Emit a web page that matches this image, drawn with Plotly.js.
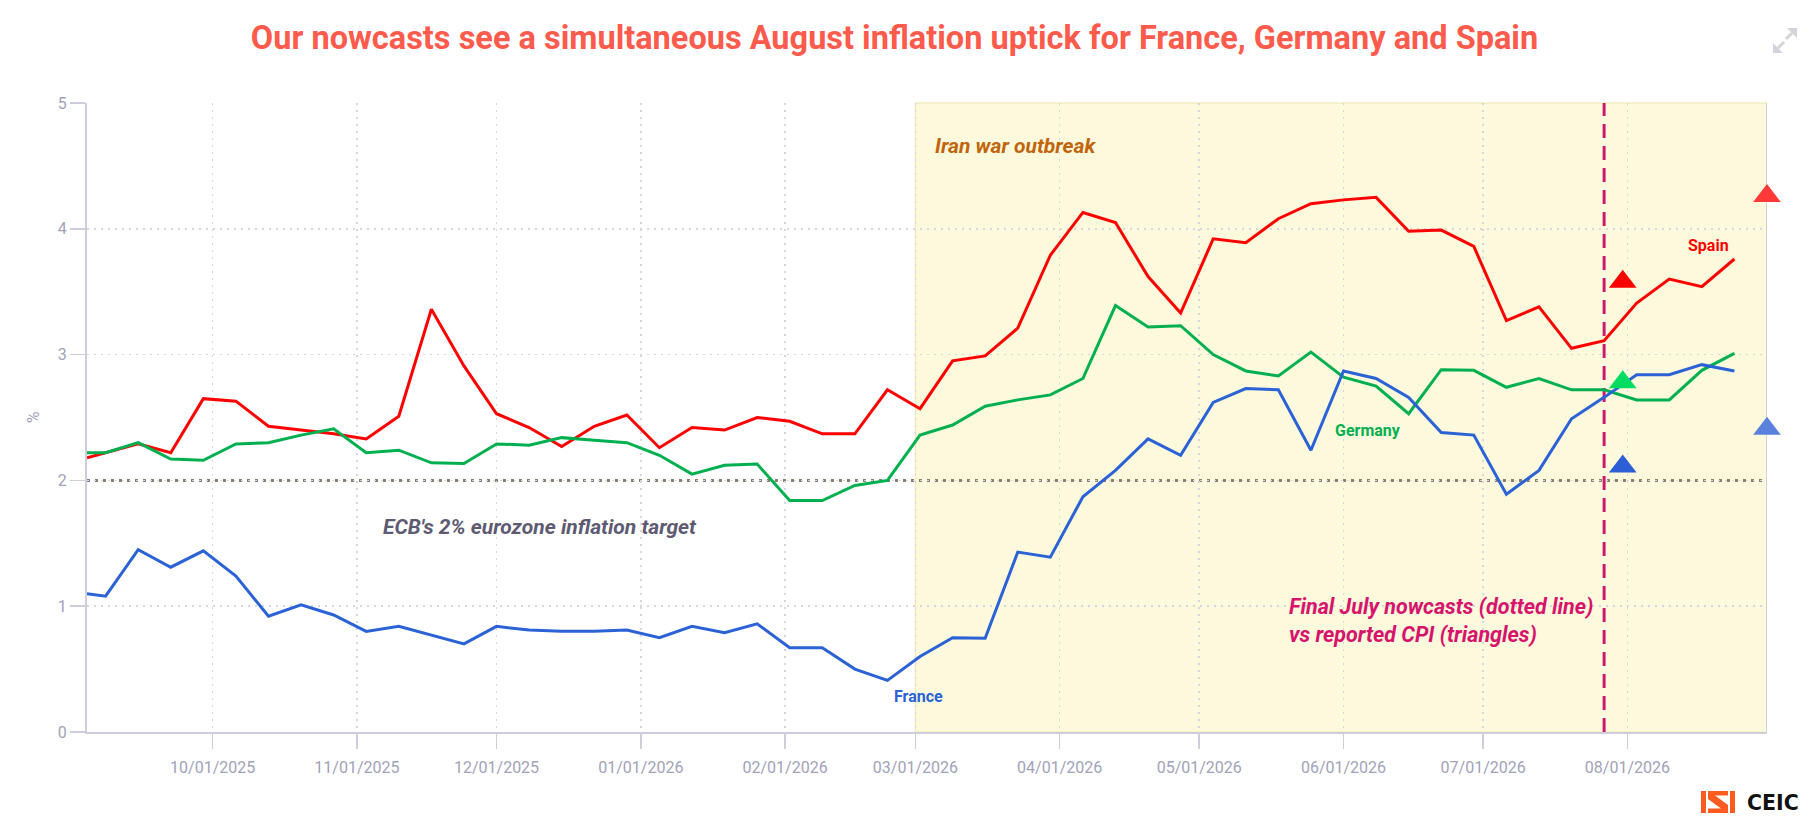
<!DOCTYPE html>
<html>
<head>
<meta charset="utf-8">
<script src="https://cdn.plot.ly/plotly-3.0.1.min.js"></script>
<style>
  html, body { margin: 0; padding: 0; background: #ffffff; }
  #chart { width: 1812px; height: 830px; }
</style>
</head>
<body>
<div id="chart"></div>
<script>
// ---------------- DATA ----------------
const dates = [
  '2025-09-04', '2025-09-08', '2025-09-15', '2025-09-22', '2025-09-29',
  '2025-10-06', '2025-10-13', '2025-10-20', '2025-10-27',
  '2025-11-03', '2025-11-10', '2025-11-17', '2025-11-24',
  '2025-12-01', '2025-12-08', '2025-12-15', '2025-12-22', '2025-12-29',
  '2026-01-05', '2026-01-12', '2026-01-19', '2026-01-26',
  '2026-02-02', '2026-02-09', '2026-02-16', '2026-02-23',
  '2026-03-02', '2026-03-09', '2026-03-16', '2026-03-23', '2026-03-30',
  '2026-04-06', '2026-04-13', '2026-04-20', '2026-04-27',
  '2026-05-04', '2026-05-11', '2026-05-18', '2026-05-25',
  '2026-06-01', '2026-06-08', '2026-06-15', '2026-06-22', '2026-06-29',
  '2026-07-06', '2026-07-13', '2026-07-20', '2026-07-27',
  '2026-08-03', '2026-08-10', '2026-08-17', '2026-08-24'
];

const spain = [
  2.18, 2.22, 2.29, 2.22, 2.65,
  2.63, 2.43, 2.40, 2.37,
  2.33, 2.51, 3.36, 2.91,
  2.53, 2.42, 2.27, 2.43, 2.52,
  2.26, 2.42, 2.40, 2.50,
  2.47, 2.37, 2.37, 2.72,
  2.57, 2.95, 2.99, 3.21, 3.79,
  4.13, 4.05, 3.62, 3.33,
  3.92, 3.89, 4.08, 4.20,
  4.23, 4.25, 3.98, 3.99, 3.86,
  3.27, 3.38, 3.05, 3.11,
  3.41, 3.60, 3.54, 3.76
];

const germany = [
  2.22, 2.22, 2.30, 2.17, 2.16,
  2.29, 2.30, 2.36, 2.41,
  2.22, 2.24, 2.14, 2.135,
  2.29, 2.28, 2.34, 2.32, 2.30,
  2.20, 2.05, 2.12, 2.13,
  1.84, 1.84, 1.96, 2.00,
  2.36, 2.44, 2.59, 2.64, 2.68,
  2.81, 3.39, 3.22, 3.23,
  3.00, 2.87, 2.83, 3.02,
  2.82, 2.75, 2.53, 2.88, 2.875,
  2.74, 2.81, 2.72, 2.72,
  2.64, 2.64, 2.875, 3.01
];

const france = [
  1.10, 1.08, 1.45, 1.31, 1.44,
  1.24, 0.92, 1.01, 0.93,
  0.80, 0.84, 0.77, 0.70,
  0.84, 0.81, 0.80, 0.80, 0.81,
  0.75, 0.84, 0.79, 0.86,
  0.67, 0.67, 0.50, 0.41,
  0.60, 0.75, 0.745, 1.43, 1.39,
  1.87, 2.08, 2.33, 2.20,
  2.62, 2.73, 2.72, 2.24,
  2.87, 2.81, 2.66, 2.38, 2.36,
  1.89, 2.08, 2.49, 2.66,
  2.84, 2.84, 2.92, 2.87
];

// Reported CPI (triangles)
const julyCpiDate = '2026-07-31';
const julyCpiCountries = ['Spain', 'Germany', 'France'];
const julyCpiValues = [3.58, 2.78, 2.11];
const augCpiDate = '2026-08-31';
const augCpiCountries = ['Spain', 'France'];
const augCpiValues = [4.26, 2.41];

const ecbTarget = 2;
const warStart = '2026-03-01';
const finalNowcastDate = '2026-07-27';
const xStart = '2025-09-04';
const xEnd = '2026-08-31';

const tickDates = [
  '2025-10-01', '2025-11-01', '2025-12-01', '2026-01-01', '2026-02-01', '2026-03-01',
  '2026-04-01', '2026-05-01', '2026-06-01', '2026-07-01', '2026-08-01'
];
const tickLabels = [
  '10/01/2025', '11/01/2025', '12/01/2025', '01/01/2026', '02/01/2026', '03/01/2026',
  '04/01/2026', '05/01/2026', '06/01/2026', '07/01/2026', '08/01/2026'
];
const yTicks = [0, 1, 2, 3, 4, 5];

// ---------------- STYLE ----------------
const colors = {
  Spain: '#ff0000',
  Germany: '#00b050',
  France: '#2b62d5'
};
const julyTriColors = { Spain: '#ff0000', Germany: '#00dd62', France: '#2c5fd6' };
const augTriColors = { Spain: '#ff3838', France: '#5a82dc' };

const W = 1812, H = 830;
const L = 87, R = 1767, T = 103, B = 732;
const pxX = x => (x - L) / (R - L);
const pxY = y => (B - y) / (B - T);

const FONT = 'Roboto, "Open Sans", sans-serif';
const tickColor = '#a2a2b9';
const axisLine = '#cdcddc';
const gridColor = '#d6d6e0';

const traces = [
  { x: dates, y: spain, name: 'Spain', mode: 'lines', line: { color: colors.Spain, width: 3 }, hoverinfo: 'skip' },
  { x: dates, y: germany, name: 'Germany', mode: 'lines', line: { color: colors.Germany, width: 3 }, hoverinfo: 'skip' },
  { x: dates, y: france, name: 'France', mode: 'lines', line: { color: colors.France, width: 3 }, hoverinfo: 'skip' },
  {
    x: julyCpiCountries.map(() => julyCpiDate), y: julyCpiValues, mode: 'markers', name: 'July CPI',
    marker: { symbol: 'triangle-up', size: 24, color: julyCpiCountries.map(c => julyTriColors[c]), line: { width: 0 } },
    cliponaxis: false, hoverinfo: 'skip'
  },
  {
    x: augCpiCountries.map(() => augCpiDate), y: augCpiValues, mode: 'markers', name: 'August CPI',
    marker: { symbol: 'triangle-up', size: 24, color: augCpiCountries.map(c => augTriColors[c]), line: { width: 0 } },
    cliponaxis: false, hoverinfo: 'skip'
  }
];

const shapes = [
  // Iran war shading
  { type: 'rect', xref: 'x', yref: 'paper', x0: warStart, x1: xEnd, y0: 0, y1: 1,
    fillcolor: '#fdf9dc', line: { color: '#f4edc0', width: 1.5 }, layer: 'below' },
  // right border
  { type: 'line', xref: 'x', yref: 'paper', x0: xEnd, x1: xEnd, y0: 0, y1: 1,
    line: { color: '#d2d2d2', width: 2 }, layer: 'between' },
  // ECB target line
  { type: 'line', xref: 'paper', yref: 'y', x0: 0, x1: 1, y0: ecbTarget, y1: ecbTarget,
    line: { color: '#8a8070', width: 3, dash: '3px,5px' }, layer: 'between' },
  // final July nowcast line
  { type: 'line', xref: 'x', yref: 'paper', x0: finalNowcastDate, x1: finalNowcastDate, y0: 0, y1: 1,
    line: { color: '#cc1a6b', width: 3, dash: '14px,8px' }, layer: 'between' },
  // CEIC logo icon
  { type: 'rect', xref: 'paper', yref: 'paper', x0: pxX(1701), x1: pxX(1706), y0: pxY(813), y1: pxY(791),
    fillcolor: '#ff5a1f', line: { width: 0 } },
  { type: 'rect', xref: 'paper', yref: 'paper', x0: pxX(1730), x1: pxX(1735), y0: pxY(813), y1: pxY(791),
    fillcolor: '#ff5a1f', line: { width: 0 } },
  { type: 'path', xref: 'paper', yref: 'paper',
    path: `M${pxX(1708)},${pxY(791)} L${pxX(1728)},${pxY(791)} L${pxX(1728)},${pxY(795.5)} L${pxX(1715)},${pxY(795.5)} L${pxX(1728)},${pxY(805)} L${pxX(1728)},${pxY(813)} L${pxX(1708)},${pxY(813)} L${pxX(1708)},${pxY(808.5)} L${pxX(1721)},${pxY(808.5)} L${pxX(1708)},${pxY(799)} Z`,
    fillcolor: '#ff5a1f', line: { width: 0 } },
  // expand icon
  { type: 'path', xref: 'paper', yref: 'paper',
    path: `M${pxX(1797)},${pxY(28)} L${pxX(1787)},${pxY(28)} L${pxX(1797)},${pxY(38)} Z`,
    fillcolor: '#d3d3db', line: { width: 0 } },
  { type: 'line', xref: 'paper', yref: 'paper', x0: pxX(1792), y0: pxY(33), x1: pxX(1786), y1: pxY(39),
    line: { color: '#d3d3db', width: 3 } },
  { type: 'path', xref: 'paper', yref: 'paper',
    path: `M${pxX(1773)},${pxY(53)} L${pxX(1783)},${pxY(53)} L${pxX(1773)},${pxY(43)} Z`,
    fillcolor: '#d3d3db', line: { width: 0 } },
  { type: 'line', xref: 'paper', yref: 'paper', x0: pxX(1778), y0: pxY(48), x1: pxX(1784), y1: pxY(42),
    line: { color: '#d3d3db', width: 3 } }
];

const annoFont = (color, size) => ({ family: FONT, size: size, color: color, weight: 700, style: 'italic' });
const labelFont = (color) => ({ family: FONT, size: 16, color: color, weight: 700 });

const annotations = [
  { text: 'Iran war outbreak', xref: 'paper', yref: 'paper', x: pxX(933), y: pxY(146),
    xanchor: 'left', yanchor: 'middle', showarrow: false, font: annoFont('#c0650b', 21) },
  { text: "ECB's 2% eurozone inflation target", xref: 'paper', yref: 'paper', x: pxX(381), y: pxY(527),
    xanchor: 'left', yanchor: 'middle', showarrow: false, font: annoFont('#5d5a72', 21) },
  { text: 'Final July nowcasts (dotted line)', xref: 'paper', yref: 'paper', x: pxX(1287), y: pxY(606),
    xanchor: 'left', yanchor: 'middle', showarrow: false, font: annoFont('#d6146c', 21.5) },
  { text: 'vs reported CPI (triangles)', xref: 'paper', yref: 'paper', x: pxX(1287), y: pxY(634),
    xanchor: 'left', yanchor: 'middle', showarrow: false, font: annoFont('#d6146c', 21.5) },
  { text: 'Spain', xref: 'paper', yref: 'paper', x: pxX(1708), y: pxY(245),
    xanchor: 'center', yanchor: 'middle', showarrow: false, font: labelFont(colors.Spain) },
  { text: 'Germany', xref: 'paper', yref: 'paper', x: pxX(1368), y: pxY(430),
    xanchor: 'center', yanchor: 'middle', showarrow: false, font: labelFont(colors.Germany) },
  { text: 'France', xref: 'paper', yref: 'paper', x: pxX(918), y: pxY(696),
    xanchor: 'center', yanchor: 'middle', showarrow: false, font: labelFont(colors.France) },
  { text: 'CEIC', xref: 'paper', yref: 'paper', x: pxX(1745), y: pxY(803),
    xanchor: 'left', yanchor: 'middle', showarrow: false,
    font: { family: '"DejaVu Sans", sans-serif', size: 20.5, color: '#111111', weight: 700 } }
];

const layout = {
  width: W, height: H,
  paper_bgcolor: '#ffffff', plot_bgcolor: '#ffffff',
  margin: { l: L, r: W - R, t: T, b: H - B, pad: 0 },
  showlegend: false,
  title: {
    text: 'Our nowcasts see a simultaneous August inflation uptick for France, Germany and Spain',
    font: { family: FONT, size: 32.5, color: '#fe5b4c', weight: 700 },
    x: 894.5 / W, xanchor: 'center', xref: 'container',
    y: 1 - 38 / H, yanchor: 'middle', yref: 'container'
  },
  xaxis: {
    type: 'date', range: [xStart, xEnd],
    tickmode: 'array', tickvals: tickDates, ticktext: tickLabels,
    showgrid: true, gridcolor: gridColor, gridwidth: 1.5, griddash: '2px,5px',
    showline: true, linecolor: axisLine, linewidth: 2,
    ticks: 'outside', ticklen: 15, tickwidth: 1.5, tickcolor: axisLine,
    ticklabelstandoff: 5,
    tickfont: { family: FONT, size: 16, color: tickColor },
    zeroline: false, fixedrange: true
  },
  yaxis: {
    range: [0, 5], tickmode: 'array', tickvals: yTicks,
    showgrid: true, gridcolor: gridColor, gridwidth: 1.5, griddash: '2px,5px',
    showline: true, linecolor: axisLine, linewidth: 2,
    ticks: 'outside', ticklen: 15, tickwidth: 1.5, tickcolor: axisLine,
    tickfont: { family: FONT, size: 16, color: tickColor },
    title: { text: '%', font: { family: FONT, size: 16, color: tickColor }, standoff: 14 },
    zeroline: false, fixedrange: true
  },
  shapes: shapes,
  annotations: annotations
};

Plotly.newPlot('chart', traces, layout, { displayModeBar: false, staticPlot: true });
</script>
</body>
</html>
